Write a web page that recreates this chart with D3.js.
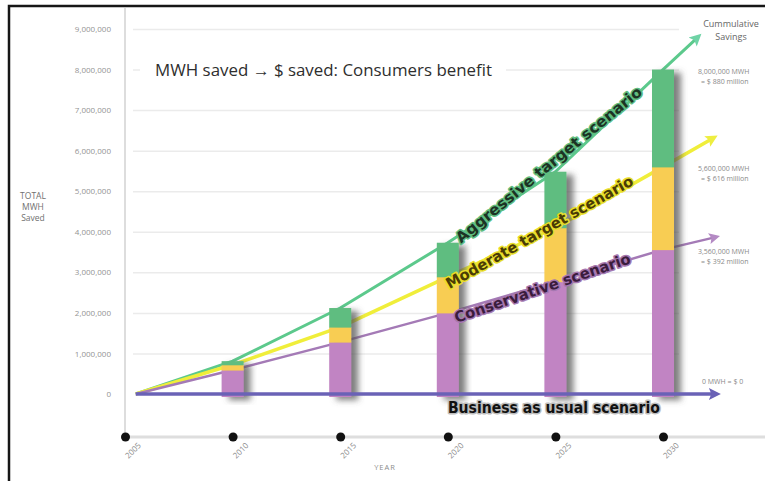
<!DOCTYPE html>
<html>
<head>
<meta charset="utf-8">
<script src="https://cdn.jsdelivr.net/npm/d3@7"></script>
<style>
  html, body { margin: 0; padding: 0; background: #fff; }
  svg { display: block; }
</style>
</head>
<body>
<svg id="chart" width="765" height="481"></svg>
<script>
// Cumulative MWH saved per scenario (stacked bars, totals at each year)
const years = [2010, 2015, 2020, 2025, 2030];
const conservative = [590000, 1280000, 2000000, 2770000, 3560000];
const moderate = [720000, 1650000, 2890000, 4100000, 5600000];
const aggressive = [810000, 2120000, 3730000, 5480000, 8000000];

// Trend lines start here and run out past the last bar to an arrowhead
const startYear = 2005.5;
const scenarioNames = ["Aggressive target scenario", "Moderate target scenario", "Conservative scenario", "Business as usual scenario"];
const arrowYears = [2031.5, 2032.2, 2032.3, 2032.3];
const arrowValues = [8740000, 6270000, 3850000, 0];

// Savings in dollars at the end of the period
const dollarMillions = [880, 616, 392, 0];

// Axis ticks
const xTicks = [2005, 2010, 2015, 2020, 2025, 2030];
const yTicks = [0, 1000000, 2000000, 3000000, 4000000, 5000000, 6000000, 7000000, 8000000, 9000000];

// Scenario label placement along the lines (start / end in [year, MWH])
const labelStarts = [[2020.47, 3800000], [2019.96, 2690000], [2020.33, 1870000]];
const labelEnds = [[2028.93, 7500000], [2028.56, 5280000], [2028.47, 3350000]];

const svg = d3.select("#chart");
const x = d3.scaleLinear().domain([2005, 2030]).range([125, 663]);
const y = d3.scaleLinear().domain([0, 9000000]).range([394, 29]);

const colors = {
  green: "#5fbd80", yellow: "#f8cd52", purple: "#c184c3",
  greenLine: "#5cc98c", yellowLine: "#f0ee3a", purpleLine: "#a47ab6", blueLine: "#6a62b6"
};

const defs = svg.append("defs");
const shadow = defs.append("filter").attr("id", "barShadow")
  .attr("x", "-30%").attr("y", "-10%").attr("width", "190%").attr("height", "130%");
shadow.append("feDropShadow").attr("dx", 7).attr("dy", 3).attr("stdDeviation", 3)
  .attr("flood-color", "#555").attr("flood-opacity", 0.75);

function marker(id, color, size) {
  defs.append("marker").attr("id", id)
    .attr("viewBox", "0 0 10 10").attr("refX", 3).attr("refY", 5)
    .attr("markerUnits", "userSpaceOnUse")
    .attr("markerWidth", size * 1.3).attr("markerHeight", size)
    .attr("orient", "auto")
    .append("path").attr("d", "M0,0 L10,5 L0,10 L2,5 Z").attr("fill", color);
}
marker("arrowGreen", "#6fd3a6", 12);
marker("arrowYellow", "#eeee40", 12);
marker("arrowPurple", "#b48ac4", 11);
marker("arrowBlue", "#6a62b6", 12);

// Frame
svg.append("rect").attr("x", 9).attr("y", 6).attr("width", 770).attr("height", 490)
  .attr("fill", "none").attr("stroke", "#161616").attr("stroke-width", 2.5);

// Gridlines
svg.append("g").attr("transform", "translate(133,0)")
  .call(d3.axisRight(y).tickValues(yTicks.slice(1)).tickSize(546).tickFormat(""))
  .call(g => g.select(".domain").remove())
  .call(g => g.selectAll("line").attr("stroke", "#ebebeb").attr("stroke-width", 1.5));

// Vertical axis line
svg.append("line").attr("x1", 125).attr("x2", 125).attr("y1", 8).attr("y2", 437)
  .attr("stroke", "#d2d2d2").attr("stroke-width", 1.5);

// Y tick labels
svg.append("g").attr("transform", "translate(111,0)")
  .call(d3.axisLeft(y).tickValues(yTicks).tickSize(0).tickPadding(0).tickFormat(d3.format(",")))
  .call(g => g.select(".domain").remove())
  .call(g => g.selectAll("text").attr("fill", "#939393")
    .attr("font-family", "'Open Sans', sans-serif").attr("font-size", 8));

// Y axis title
svg.append("text").attr("x", 33).attr("y", 199).attr("text-anchor", "middle")
  .attr("font-family", "'Open Sans', sans-serif").attr("font-size", 8.5).attr("fill", "#707070")
  .selectAll("tspan").data(["TOTAL", "MWH", "Saved"]).join("tspan")
  .attr("x", 33).attr("dy", (d, i) => i ? 11 : 0).text(d => d);

// X axis: light track with black year dots
svg.append("line").attr("x1", 125).attr("x2", 765).attr("y1", 437).attr("y2", 437)
  .attr("stroke", "#dedede").attr("stroke-width", 3);
const xAxis = svg.append("g").attr("transform", "translate(0,437)")
  .call(d3.axisBottom(x).tickValues(xTicks).tickSize(0).tickFormat(d3.format("d")))
  .call(g => g.select(".domain").remove());
xAxis.selectAll(".tick").append("circle").attr("r", 4.5).attr("fill", "#111");
xAxis.selectAll(".tick text")
  .attr("text-anchor", "end").attr("dy", 0).attr("y", 0)
  .attr("transform", "translate(16,9) rotate(-45)")
  .attr("fill", "#8c8c8c").attr("font-family", "'Open Sans', sans-serif").attr("font-size", 8);
svg.append("text").attr("x", 385).attr("y", 470).attr("text-anchor", "middle")
  .attr("font-family", "'Open Sans', sans-serif").attr("font-size", 7.5)
  .attr("letter-spacing", 1).attr("fill", "#8c8c8c").text("YEAR");

// Title with white backing
svg.append("rect").attr("x", 140).attr("y", 57).attr("width", 366).attr("height", 26).attr("fill", "#fff");
svg.append("text").attr("x", 155).attr("y", 76)
  .attr("font-family", "'Open Sans', sans-serif").attr("font-size", 15.5).attr("fill", "#2e2e2e")
  .attr("textLength", 337).attr("lengthAdjust", "spacingAndGlyphs")
  .text("MWH saved \u2192 $ saved: Consumers benefit");

// Scenario trend lines through the stacked totals
const line = d3.line().x(d => x(d[0])).y(d => y(d[1]));
const scenarioSeries = [aggressive, moderate, conservative];
const lineColors = [colors.greenLine, colors.yellowLine, colors.purpleLine];
const lineWidths = [3, 3.5, 2.5];
const markers = ["arrowGreen", "arrowYellow", "arrowPurple"];
scenarioSeries.forEach((vals, i) => {
  const pts = [[startYear, 0]].concat(years.map((yr, j) => [yr, vals[j]])).concat([[arrowYears[i], arrowValues[i]]]);
  svg.append("path").datum(pts).attr("d", line)
    .attr("fill", "none").attr("stroke", lineColors[i]).attr("stroke-width", lineWidths[i])
    .attr("stroke-linejoin", "round")
    .attr("marker-end", `url(#${markers[i]})`);
});

// Stacked bars
const barW = 22;
years.forEach((yr, j) => {
  const g = svg.append("g").attr("filter", "url(#barShadow)");
  const segs = [
    [0, conservative[j], colors.purple],
    [conservative[j], moderate[j], colors.yellow],
    [moderate[j], aggressive[j], colors.green]
  ];
  g.selectAll("rect").data(segs).join("rect")
    .attr("x", x(yr) - barW / 2).attr("width", barW)
    .attr("y", d => y(d[1])).attr("height", d => y(d[0]) - y(d[1]) + (d[0] === 0 ? 3 : 0.5))
    .attr("fill", d => d[2]);
});

// Business as usual baseline
svg.append("path").datum([[startYear, 0], [arrowYears[3], arrowValues[3]]]).attr("d", line)
  .attr("fill", "none").attr("stroke", colors.blueLine).attr("stroke-width", 3.5)
  .attr("marker-end", "url(#arrowBlue)");

// Scenario labels laid along their lines
const labelFill = ["#1c3324", "#4a3c05", "#3b1c3d"];
const labelHalo = ["#5fbd80", "#e9de2a", "#a577b0"];
labelStarts.forEach((s, i) => {
  const x1 = x(s[0]), y1 = y(s[1]), x2 = x(labelEnds[i][0]), y2 = y(labelEnds[i][1]);
  const ang = Math.atan2(y2 - y1, x2 - x1) * 180 / Math.PI;
  const len = Math.hypot(x2 - x1, y2 - y1);
  svg.append("text")
    .attr("transform", `translate(${(x1 + x2) / 2},${(y1 + y2) / 2}) rotate(${ang})`)
    .attr("text-anchor", "middle").attr("dominant-baseline", "central")
    .attr("font-family", "'DejaVu Sans Condensed', 'DejaVu Sans', sans-serif")
    .attr("font-weight", "bold").attr("font-size", 15)
    .attr("textLength", len).attr("lengthAdjust", "spacingAndGlyphs")
    .attr("fill", labelFill[i]).attr("stroke", labelHalo[i]).attr("stroke-width", 3)
    .attr("stroke-linejoin", "round").attr("paint-order", "stroke")
    .text(scenarioNames[i]);
});
svg.append("text").attr("x", x(2024.93)).attr("y", y(-350000))
  .attr("text-anchor", "middle").attr("dominant-baseline", "central")
  .attr("font-family", "'DejaVu Sans Condensed', 'DejaVu Sans', sans-serif")
  .attr("font-weight", "bold").attr("font-size", 15)
  .attr("textLength", 212).attr("lengthAdjust", "spacingAndGlyphs")
  .attr("fill", "#111").attr("stroke", "#bdbdbd").attr("stroke-width", 3)
  .attr("stroke-linejoin", "round").attr("paint-order", "stroke")
  .text(scenarioNames[3]);

// Cumulative savings notes on the right
svg.append("text").attr("x", 731).attr("y", 27).attr("text-anchor", "middle")
  .attr("font-family", "'Open Sans', sans-serif").attr("font-size", 9).attr("fill", "#666")
  .selectAll("tspan").data(["Cummulative", "Savings"]).join("tspan")
  .attr("x", 731).attr("dy", (d, i) => i ? 13 : 0).text(d => d);

const finals = [aggressive[4], moderate[4], conservative[4], 0];
const fmt = d3.format(",");
finals.forEach((v, i) => {
  const t = svg.append("text").attr("font-family", "'Open Sans', sans-serif")
    .attr("font-size", 7).attr("fill", "#8a8a8a");
  if (v === 0) {
    t.attr("x", 702).attr("y", y(0) - 10).text(`0 MWH = $ ${dollarMillions[i]}`);
  } else {
    t.attr("x", 698).attr("y", y(v) + 4);
    t.append("tspan").attr("x", 698).text(`${fmt(v)} MWH`);
    t.append("tspan").attr("x", 701).attr("dy", 10).text(`= $ ${dollarMillions[i]} million`);
  }
});
</script>
</body>
</html>
